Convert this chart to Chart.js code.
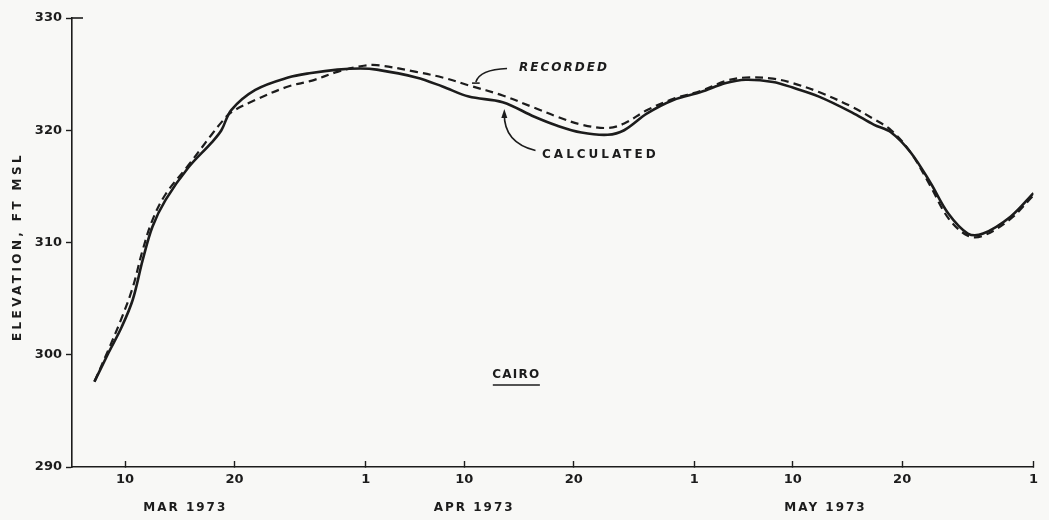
<!DOCTYPE html>
<html>
<head>
<meta charset="utf-8">
<script src="https://cdn.jsdelivr.net/npm/chart.js@4/dist/chart.umd.min.js"></script>
<style>
html, body { margin: 0; padding: 0; background: #f8f8f6; }
#wrap { width: 1049px; height: 520px; }
</style>
</head>
<body>
<div id="wrap"><canvas id="chart"></canvas></div>
<script>
// x values are days counted from Mar 1 1973 (Mar 1 = 0, Jun 1 = 92)
const days = [6.2, 7.5, 8.7, 9.7, 10.6, 11.5, 12.7, 14.8, 16.9, 17.8, 18.7, 20.9, 23.9, 26.0, 28.4, 30.5, 32.0, 35.6, 38.0, 40.4, 43.5, 46.4, 48.5, 50.7, 53.1, 54.6, 56.7, 59.1, 61.6, 63.9, 65.7, 68.2, 70.0, 72.4, 75.4, 77.4, 79.0, 80.8, 82.6, 84.2, 86.0, 87.4, 89.9, 92.0];
const calculated = [297.6, 300.2, 302.5, 304.9, 308.4, 311.4, 313.8, 316.7, 318.9, 320.0, 321.8, 323.6, 324.7, 325.1, 325.4, 325.5, 325.4, 324.7, 323.9, 323.0, 322.5, 321.2, 320.4, 319.8, 319.6, 320.0, 321.5, 322.7, 323.4, 324.2, 324.5, 324.3, 323.8, 323.0, 321.6, 320.5, 319.8, 318.0, 315.3, 312.6, 310.8, 310.8, 312.3, 314.4];
const recorded = [297.6, 300.5, 303.3, 306.0, 309.3, 312.0, 314.3, 316.9, 319.6, 320.7, 321.6, 322.7, 323.9, 324.4, 325.2, 325.7, 325.8, 325.2, 324.7, 324.0, 323.1, 322.0, 321.2, 320.5, 320.2, 320.6, 321.8, 322.8, 323.5, 324.4, 324.7, 324.6, 324.2, 323.4, 322.1, 321.0, 320.0, 318.0, 315.0, 312.2, 310.6, 310.6, 312.1, 314.2];

const tickDays = [9, 19, 31, 40, 50, 61, 70, 80, 92];
const tickLabels = ["10", "20", "1", "10", "20", "1", "10", "20", "1"];
const monthDays = [14.5, 40.9, 73];
const monthLabels = ["MAR 1973", "APR 1973", "MAY 1973"];

const INK = "#1c1c1c";
const FONT = "'DejaVu Sans'";

const notes = {
	id: "notes",
	beforeDraw(chart) {
		chart.ctx.letterSpacing = "0px";
	},
	afterDatasetsDraw(chart) {
		const { ctx, chartArea } = chart;
		const x = chart.scales.x;
		const y = chart.scales.y;
		const px = d => x.getPixelForValue(d);
		const py = v => y.getPixelForValue(v);
		ctx.save();
		ctx.fillStyle = INK;
		ctx.strokeStyle = INK;
		ctx.lineWidth = 1.6;
		ctx.textBaseline = "middle";
		ctx.textAlign = "left";

		// short stub at the top of the y axis
		ctx.beginPath();
		ctx.moveTo(chartArea.left, chartArea.top);
		ctx.lineTo(chartArea.left + 11, chartArea.top);
		ctx.stroke();

		// RECORDED label with pointer
		ctx.letterSpacing = "2px";
		ctx.font = "italic bold 12px " + FONT;
		ctx.fillText("RECORDED", px(45.0), py(325.6));
		ctx.beginPath();
		ctx.moveTo(px(43.9), py(325.5));
		ctx.quadraticCurveTo(px(41.4), py(325.4), px(41.05), py(324.3));
		ctx.stroke();
		ctx.beginPath();
		ctx.moveTo(px(40.7), py(324.2));
		ctx.lineTo(px(41.4), py(324.2));
		ctx.stroke();

		// CALCULATED label with arrow
		ctx.letterSpacing = "3px";
		ctx.font = "bold 12px " + FONT;
		ctx.fillText("CALCULATED", px(47.1), py(317.8));
		ctx.beginPath();
		ctx.moveTo(px(46.5), py(318.2));
		ctx.quadraticCurveTo(px(43.6), py(318.9), px(43.65), py(321.5));
		ctx.stroke();
		const ax = px(43.65), ay = py(321.9);
		ctx.beginPath();
		ctx.moveTo(ax, ay);
		ctx.lineTo(ax - 3, ay + 9);
		ctx.lineTo(ax + 3, ay + 9);
		ctx.closePath();
		ctx.fill();

		// station name
		ctx.letterSpacing = "1.2px";
		ctx.textAlign = "center";
		ctx.fillText("CAIRO", px(44.75), py(298.2));
		ctx.beginPath();
		ctx.lineWidth = 1.5;
		ctx.moveTo(px(42.6), py(298.2) + 10);
		ctx.lineTo(px(46.9), py(298.2) + 10);
		ctx.stroke();

		// y axis title
		ctx.letterSpacing = "3.4px";
		ctx.font = "bold 12px " + FONT;
		ctx.translate(18, (chartArea.top + chartArea.bottom) / 2 + 4);
		ctx.rotate(-Math.PI / 2);
		ctx.fillText("ELEVATION, FT MSL", 0, 0);
		ctx.restore();
		// month labels are drawn after this (ticks z: 1)
		ctx.letterSpacing = "2px";
	},
	afterDraw(chart) {
		chart.ctx.letterSpacing = "0px";
	},
};

const lineStyle = {
	pointRadius: 0,
	tension: 0.35,
	borderColor: INK,
	fill: false,
};

new Chart(document.getElementById("chart"), {
	type: "line",
	plugins: [notes],
	data: {
		datasets: [
			{
				label: "CALCULATED",
				data: days.map((d, i) => ({ x: d, y: calculated[i] })),
				borderWidth: 2.6,
				...lineStyle,
			},
			{
				label: "RECORDED",
				data: days.map((d, i) => ({ x: d, y: recorded[i] })),
				borderWidth: 2.2,
				borderDash: [8, 5],
				...lineStyle,
			},
		],
	},
	options: {
		responsive: true,
		maintainAspectRatio: false,
		animation: false,
		layout: { padding: { left: 0, right: 6, top: 18, bottom: 0 } },
		plugins: {
			legend: { display: false },
			tooltip: { enabled: false },
		},
		scales: {
			x: {
				type: "linear",
				position: "bottom",
				min: 4.15,
				max: 92,
				weight: 0,
				afterBuildTicks: s => {
					s.ticks = tickDays.map(v => ({ value: v }));
				},
				afterFit: s => {
					s.height = 24;
				},
				ticks: {
					autoSkip: false,
					maxRotation: 0,
					padding: 11,
					color: INK,
					font: { family: "DejaVu Sans", size: 13, weight: "bold" },
					callback: (v, i) => tickLabels[i],
				},
				grid: {
					drawOnChartArea: false,
					tickLength: -6,
					tickWidth: 1.4,
					color: INK,
				},
				border: { color: INK, width: 1.6 },
			},
			month: {
				type: "linear",
				position: "bottom",
				min: 4.15,
				max: 92,
				weight: 1,
				afterBuildTicks: s => {
					s.ticks = monthDays.map(v => ({ value: v }));
				},
				afterFit: s => {
					s.height = 29;
				},
				ticks: {
					z: 1,
					autoSkip: false,
					maxRotation: 0,
					padding: 2,
					color: INK,
					font: { family: "DejaVu Sans", size: 12, weight: "bold" },
					callback: (v, i) => monthLabels[i],
				},
				grid: { display: false },
				border: { display: false },
			},
			y: {
				min: 290,
				max: 330,
				afterFit: s => {
					s.width = 72;
				},
				ticks: {
					stepSize: 10,
					padding: 4,
					color: INK,
					font: { family: "DejaVu Sans", size: 13, weight: "bold" },
				},
				grid: {
					drawOnChartArea: false,
					tickLength: 6,
					tickWidth: 1.4,
					color: INK,
				},
				border: { color: INK, width: 1.6 },
			},
		},
	},
});
</script>
</body>
</html>
